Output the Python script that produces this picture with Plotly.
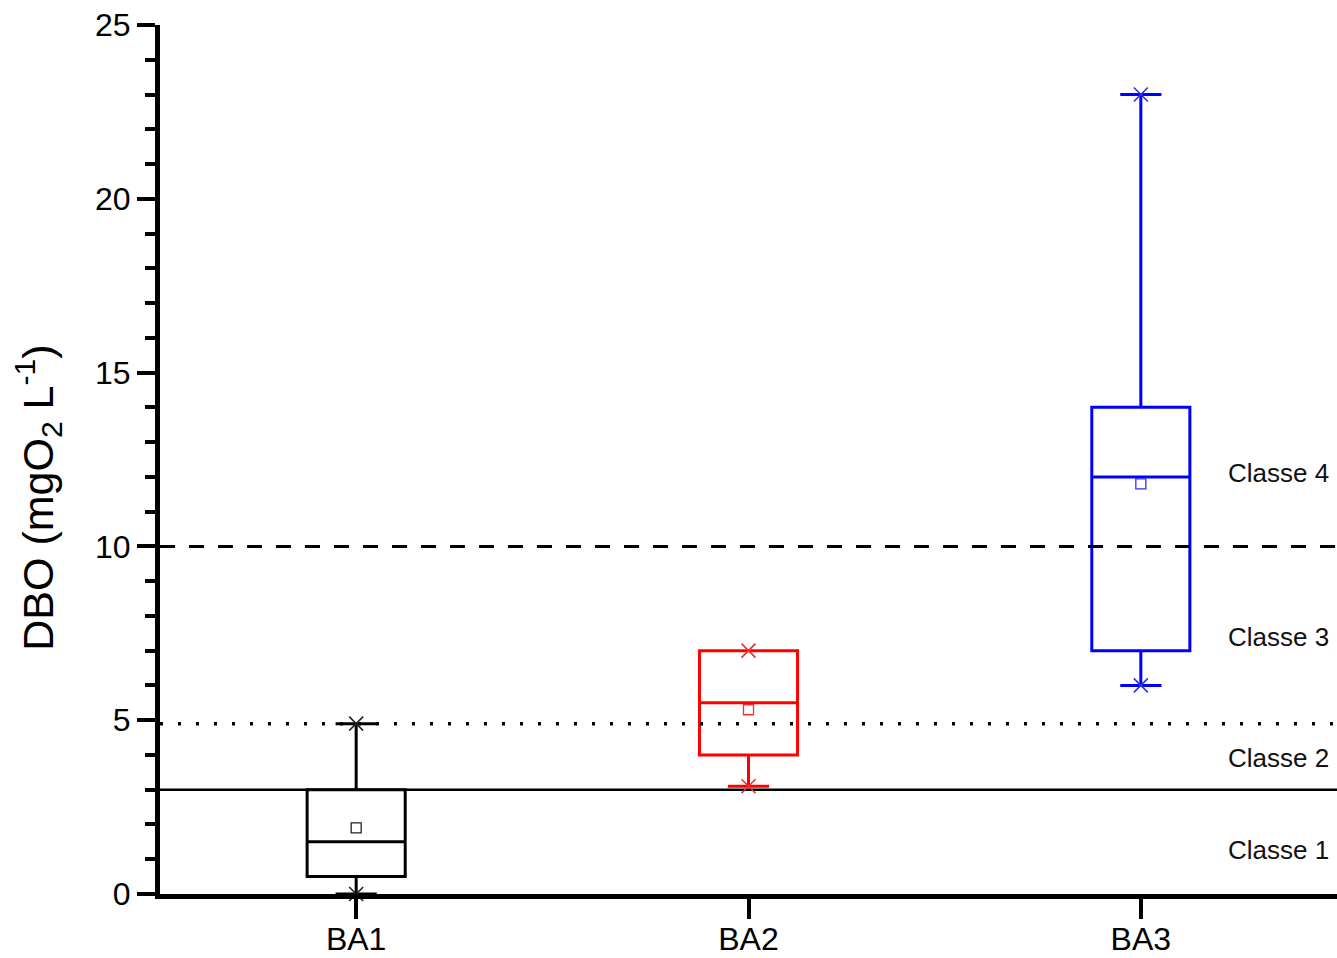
import plotly.graph_objects as go

# Sampling stations and DBO summary statistics (mgO2/L)
stations = ["BA1", "BA2", "BA3"]
dbo_min = [0.0, 3.1, 6.0]
dbo_q1 = [0.5, 4.0, 7.0]
dbo_median = [1.5, 5.5, 12.0]
dbo_q3 = [3.0, 7.0, 14.0]
dbo_max = [4.9, 7.0, 23.0]
dbo_mean = [1.9, 5.3, 11.8]

# Class limits (Classe 1/2, Classe 2/3, Classe 3/4)
class_limits = [3.0, 4.9, 10.0]
class_labels = ["Classe 1", "Classe 2", "Classe 3", "Classe 4"]

station_colors = ["#000000", "#ff0000", "#0000ff"]
marker_colors = ["#222222", "#f03030", "#3030f0"]
FONT = "Liberation Sans, Arial, sans-serif"

fig = go.Figure()

# Class limit lines
limit_styles = [
    dict(color="black", width=2.5, dash="solid"),
    dict(color="black", width=3.5, dash="3px,15px"),
    dict(color="black", width=3, dash="15px,14px"),
]
for lim, st in zip(class_limits, limit_styles):
    fig.add_trace(go.Scatter(
        x=[0.5, 3.5], y=[lim, lim], mode="lines", line=st,
        hoverinfo="skip", showlegend=False, cliponaxis=True,
    ))

# Boxes
for i, name in enumerate(stations):
    fig.add_trace(go.Box(
        x=[i + 1], q1=[dbo_q1[i]], median=[dbo_median[i]], q3=[dbo_q3[i]],
        lowerfence=[dbo_min[i]], upperfence=[dbo_max[i]],
        width=0.25, whiskerwidth=0.42, boxpoints=False,
        line=dict(color=station_colors[i], width=3),
        fillcolor="rgba(0,0,0,0)", name=name, showlegend=False,
    ))

# Min / max markers
xs = [1, 2, 3]
fig.add_trace(go.Scatter(
    x=xs + xs, y=dbo_min + dbo_max, mode="markers",
    marker=dict(symbol="x-thin", size=14,
                line=dict(width=1.6, color=marker_colors + marker_colors)),
    showlegend=False, hoverinfo="skip", cliponaxis=False,
))

# Mean markers
fig.add_trace(go.Scatter(
    x=xs, y=dbo_mean, mode="markers",
    marker=dict(symbol="square-open", size=10, color=marker_colors,
                line=dict(width=1.3, color=marker_colors)),
    showlegend=False, hoverinfo="skip",
))

# Class labels on the right side
label_y = [1.27, 3.9, 7.4, 12.1]
for txt, yy in zip(class_labels, label_y):
    fig.add_annotation(
        x=1, xref="paper", y=yy, yref="y", xanchor="right", yanchor="middle",
        xshift=-6, text=txt, showarrow=False,
        font=dict(family=FONT, size=26, color="#111111"),
    )

# Y axis title
fig.add_annotation(
    x=0, xref="paper", xshift=-122, y=0.456, yref="paper",
    xanchor="center", yanchor="middle", textangle=-90,
    text="DBO (mgO<sub>2</sub> L<sup>-1</sup>)", showarrow=False,
    font=dict(family=FONT, size=43, color="black"),
)

fig.update_xaxes(
    range=[0.5, 3.5], tickvals=xs, ticktext=stations,
    showline=True, linewidth=5, linecolor="black", mirror=False,
    ticks="outside", ticklen=20, tickwidth=4, tickcolor="black",
    ticklabelstandoff=-7,
    tickfont=dict(family=FONT, size=32, color="black"),
    showgrid=False, zeroline=False, automargin=False,
)
fig.update_yaxes(
    range=[0, 25], dtick=5, tick0=0,
    showline=True, linewidth=5, linecolor="black",
    ticks="outside", ticklen=18, tickwidth=4, tickcolor="black",
    minor=dict(dtick=1, ticks="outside", ticklen=10, tickwidth=4,
               tickcolor="black", showgrid=False),
    tickfont=dict(family=FONT, size=32, color="black"),
    showgrid=False, zeroline=False, automargin=False,
)

fig.update_layout(
    width=1337, height=958,
    margin=dict(l=160, r=0, t=25, b=64),
    paper_bgcolor="white", plot_bgcolor="white",
    font=dict(family=FONT),
    showlegend=False,
)

fig.write_html("out.html")
